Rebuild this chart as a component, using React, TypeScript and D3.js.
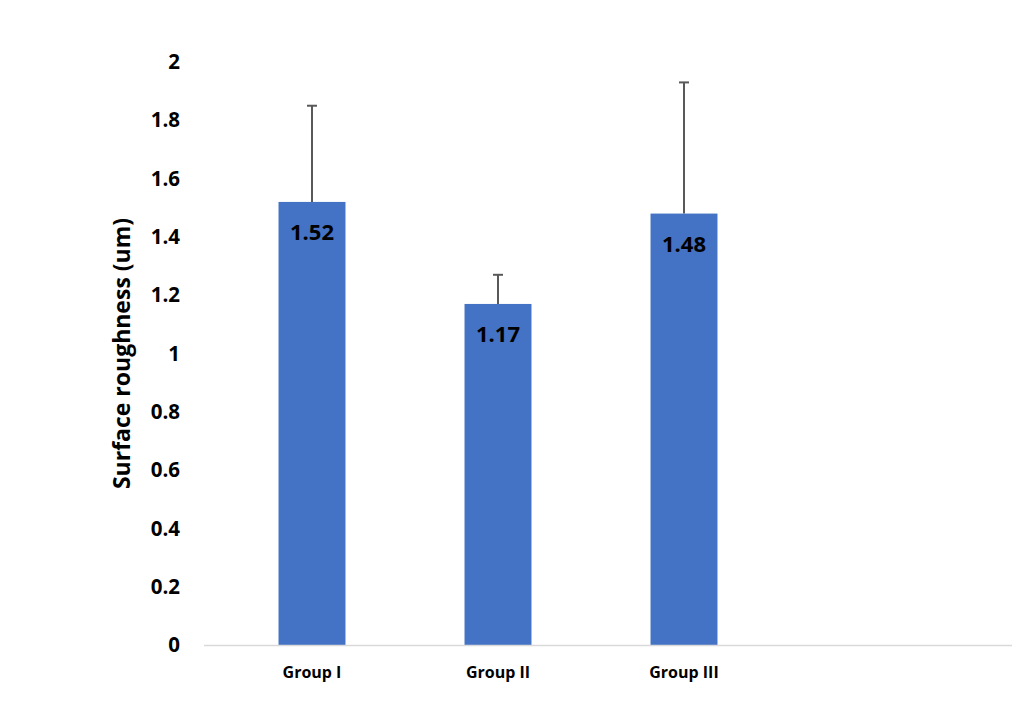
import React from 'react';
import * as d3 from 'd3';

// Mean surface roughness per group with its standard deviation
const groups = ['Group I', 'Group II', 'Group III'];
const means = [1.52, 1.17, 1.48];
const sds = [0.33, 0.1, 0.45];
const yTicks = [0, 0.2, 0.4, 0.6, 0.8, 1, 1.2, 1.4, 1.6, 1.8, 2];

const W = 1012;
const H = 712;
const font = "'Open Sans', 'DejaVu Sans', sans-serif";

const App = () => {
  const y = d3.scaleLinear().domain([0, 2]).range([645, 62]);
  const x = d3
    .scaleBand<string>()
    .domain(groups)
    .range([219, 777])
    .paddingInner(0.64)
    .paddingOuter(0.32);

  const fmt = (v: number) => (v === 0 || v === 1 || v === 2 ? String(v) : d3.format('.1f')(v));

  return (
    <svg width={W} height={H} style={{ display: 'block', position: 'absolute', left: 0, top: 0 }}>
      <rect width={W} height={H} fill="#fff" />

      {/* y tick labels */}
      {yTicks.map(t => (
        <text
          key={t}
          x={180}
          y={y(t)}
          dy="0.35em"
          textAnchor="end"
          fontFamily={font}
          fontWeight={700}
          fontSize={20.5}
          fill="#000"
        >
          {fmt(t)}
        </text>
      ))}

      <text
        transform={`translate(130, ${(y(0) + y(2)) / 2}) rotate(-90)`}
        textAnchor="middle"
        fontFamily={font}
        fontWeight={700}
        fontSize={23}
        fill="#000"
      >
        Surface roughness (um)
      </text>

      {/* bars */}
      {groups.map((g, i) => (
        <rect
          key={g}
          x={x(g)}
          y={y(means[i])}
          width={x.bandwidth()}
          height={y(0) - y(means[i])}
          fill="#4472c4"
        />
      ))}

      {/* baseline */}
      <line x1={204} x2={1012} y1={y(0) + 0.5} y2={y(0) + 0.5} stroke="#d9d9d9" strokeWidth={1.5} />

      {/* upper error bars */}
      {groups.map((g, i) => {
        const cx = (x(g) as number) + x.bandwidth() / 2;
        return (
          <g key={g} stroke="#595959" strokeWidth={2}>
            <line x1={cx} x2={cx} y1={y(means[i])} y2={y(means[i] + sds[i])} />
            <line x1={cx - 5} x2={cx + 5} y1={y(means[i] + sds[i])} y2={y(means[i] + sds[i])} />
          </g>
        );
      })}

      {/* value labels */}
      {groups.map((g, i) => (
        <text
          key={g}
          x={(x(g) as number) + x.bandwidth() / 2}
          y={y(means[i]) + 38}
          textAnchor="middle"
          fontFamily={font}
          fontWeight={700}
          fontSize={22}
          fill="#000"
        >
          {means[i].toFixed(2)}
        </text>
      ))}

      {/* category labels */}
      {groups.map(g => (
        <text
          key={g}
          x={(x(g) as number) + x.bandwidth() / 2}
          y={678}
          textAnchor="middle"
          fontFamily={font}
          fontWeight={700}
          fontSize={16}
          fill="#000"
        >
          {g}
        </text>
      ))}
    </svg>
  );
};

export default App;
